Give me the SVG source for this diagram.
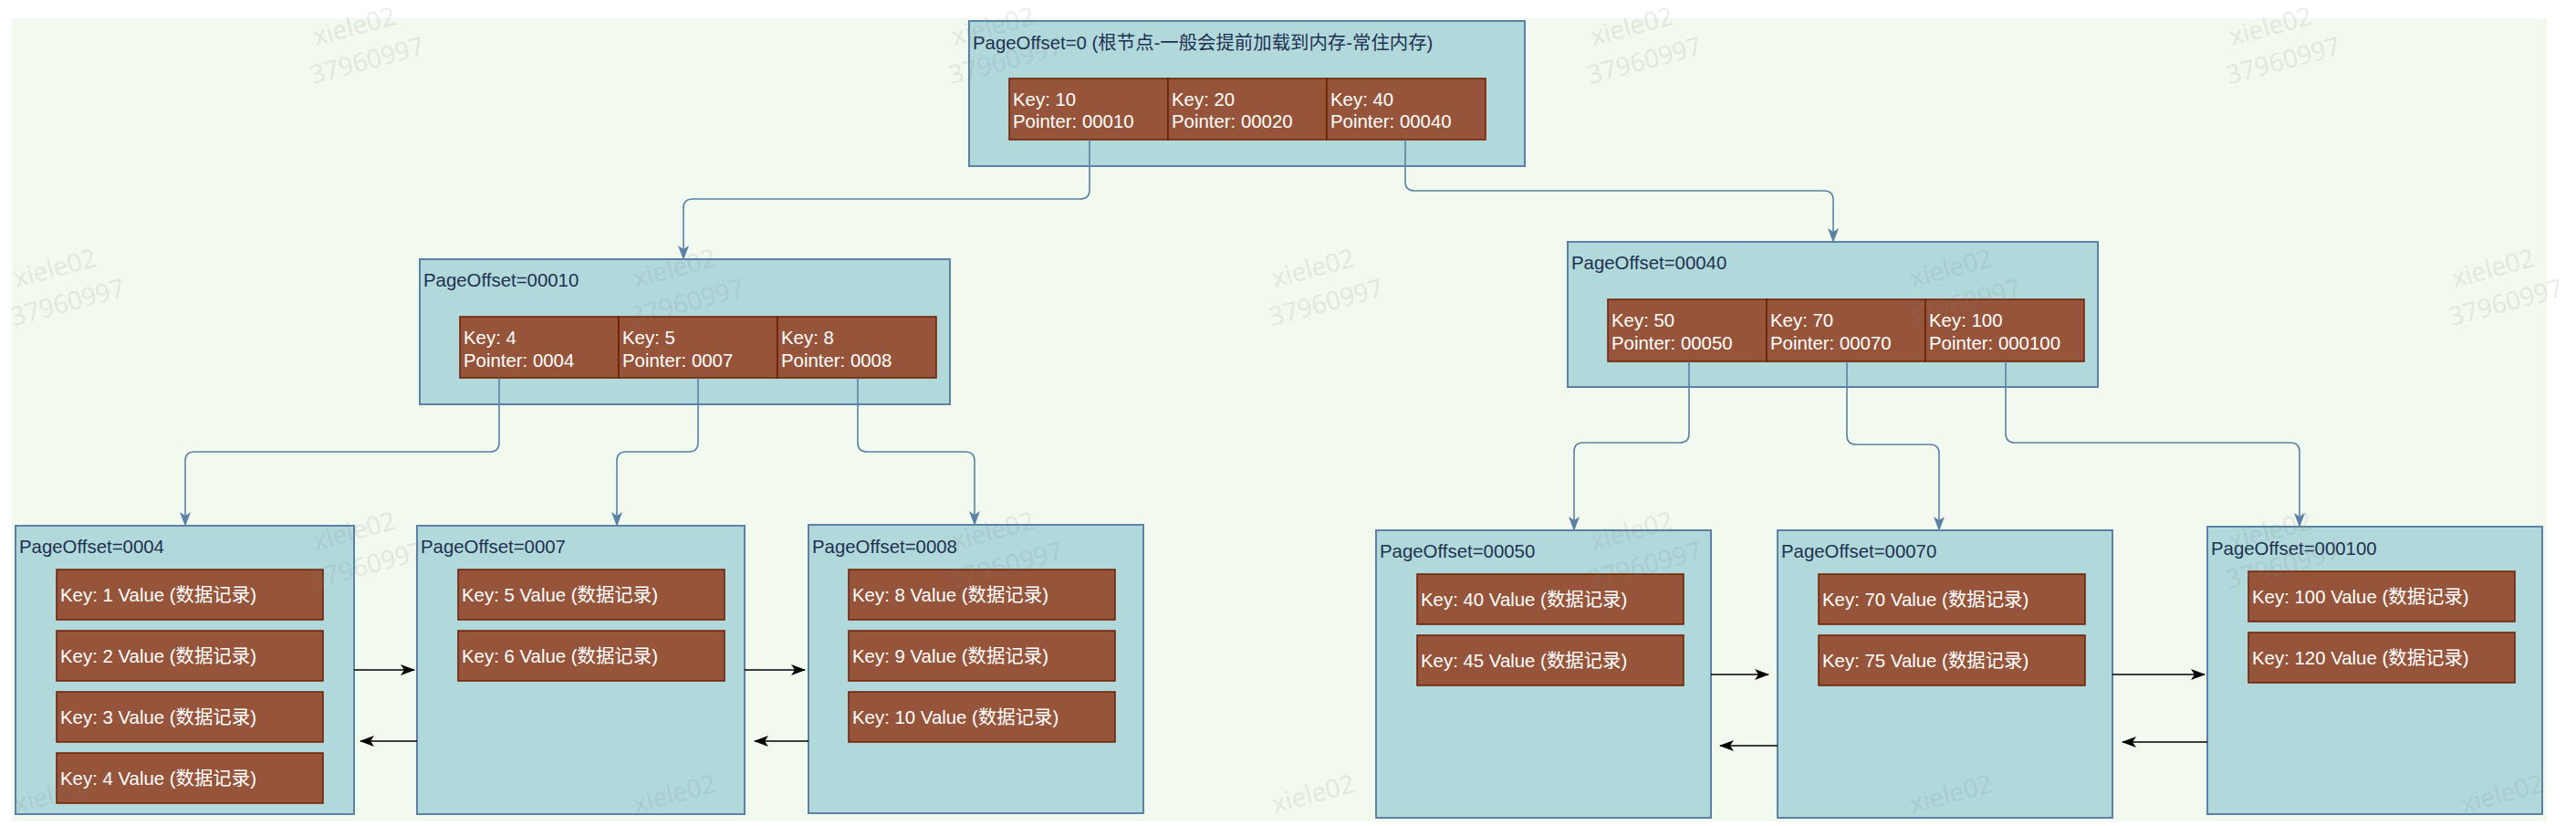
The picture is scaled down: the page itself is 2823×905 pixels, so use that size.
<svg xmlns="http://www.w3.org/2000/svg" width="2823" height="905" viewBox="0 0 2823 905">
<style>
.page{fill:#b1d9dc;stroke:#5b82a5;stroke-width:2}
.cell{fill:#96553a;stroke:#6d1f00;stroke-width:1.5}
.ttl{font-family:"Liberation Sans","Noto Sans CJK SC",sans-serif;font-size:20.4px;fill:#1e3150}
.ct{font-family:"Liberation Sans","Noto Sans CJK SC",sans-serif;font-size:20.4px;fill:#ffffff}
.tree{fill:none;stroke:#5b82a5;stroke-width:1.6}
.link{fill:none;stroke:#000000;stroke-width:1.6}
.wm{font-family:"Open Sans","DejaVu Sans",sans-serif;font-size:28px;fill:#7a7f7f;opacity:0.14}
</style>
<defs>
<marker id="ab" markerUnits="userSpaceOnUse" markerWidth="16" markerHeight="12" viewBox="0 0 16 12" refX="15" refY="6" orient="auto">
<path d="M0,0 L16,6 L0,12 L4,6 Z" fill="#5b82a5"/>
</marker>
<marker id="ak" markerUnits="userSpaceOnUse" markerWidth="16" markerHeight="12" viewBox="0 0 16 12" refX="15" refY="6" orient="auto">
<path d="M0,0 L16,6 L0,12 L4,6 Z" fill="#000000"/>
</marker>
</defs>
<rect x="0" y="0" width="2823" height="905" fill="#ffffff"/>
<rect x="13" y="20" width="2778" height="880" fill="#f2f9ef"/>

<g id="root">
<rect class="page" x="1062" y="23" width="609" height="159"/>
<text class="ttl" x="1066" y="54">PageOffset=0 (根节点-一般会提前加载到内存-常住内存)</text>
<rect class="cell" x="1106" y="86" width="174" height="67"/>
<rect class="cell" x="1280" y="86" width="174" height="67"/>
<rect class="cell" x="1454" y="86" width="174" height="67"/>
<text class="ct" x="1110" y="116">Key: 10</text><text class="ct" x="1110" y="140">Pointer: 00010</text>
<text class="ct" x="1284" y="116">Key: 20</text><text class="ct" x="1284" y="140">Pointer: 00020</text>
<text class="ct" x="1458" y="116">Key: 40</text><text class="ct" x="1458" y="140">Pointer: 00040</text>
</g>

<g id="page-00010">
<rect class="page" x="460" y="284" width="581" height="159"/>
<text class="ttl" x="464" y="314">PageOffset=00010</text>
<rect class="cell" x="504" y="347" width="174" height="67"/>
<rect class="cell" x="678" y="347" width="174" height="67"/>
<rect class="cell" x="852" y="347" width="174" height="67"/>
<text class="ct" x="508" y="377">Key: 4</text><text class="ct" x="508" y="402">Pointer: 0004</text>
<text class="ct" x="682" y="377">Key: 5</text><text class="ct" x="682" y="402">Pointer: 0007</text>
<text class="ct" x="856" y="377">Key: 8</text><text class="ct" x="856" y="402">Pointer: 0008</text>
</g>

<g id="page-00040">
<rect class="page" x="1718" y="265" width="581" height="159"/>
<text class="ttl" x="1722" y="295">PageOffset=00040</text>
<rect class="cell" x="1762" y="328" width="174" height="68"/>
<rect class="cell" x="1936" y="328" width="174" height="68"/>
<rect class="cell" x="2110" y="328" width="174" height="68"/>
<text class="ct" x="1766" y="358">Key: 50</text><text class="ct" x="1766" y="383">Pointer: 00050</text>
<text class="ct" x="1940" y="358">Key: 70</text><text class="ct" x="1940" y="383">Pointer: 00070</text>
<text class="ct" x="2114" y="358">Key: 100</text><text class="ct" x="2114" y="383">Pointer: 000100</text>
</g>

<g id="page-0004">
<rect class="page" x="17" y="576" width="371" height="316"/>
<text class="ttl" x="21" y="606">PageOffset=0004</text>
<rect class="cell" x="62" y="624" width="292" height="55"/><text class="ct" x="66" y="659">Key: 1 Value (数据记录)</text>
<rect class="cell" x="62" y="691" width="292" height="55"/><text class="ct" x="66" y="726">Key: 2 Value (数据记录)</text>
<rect class="cell" x="62" y="758" width="292" height="55"/><text class="ct" x="66" y="793">Key: 3 Value (数据记录)</text>
<rect class="cell" x="62" y="825" width="292" height="55"/><text class="ct" x="66" y="860">Key: 4 Value (数据记录)</text>
</g>

<g id="page-0007">
<rect class="page" x="457" y="576" width="359" height="316"/>
<text class="ttl" x="461" y="606">PageOffset=0007</text>
<rect class="cell" x="502" y="624" width="292" height="55"/><text class="ct" x="506" y="659">Key: 5 Value (数据记录)</text>
<rect class="cell" x="502" y="691" width="292" height="55"/><text class="ct" x="506" y="726">Key: 6 Value (数据记录)</text>
</g>

<g id="page-0008">
<rect class="page" x="886" y="575" width="367" height="316"/>
<text class="ttl" x="890" y="606">PageOffset=0008</text>
<rect class="cell" x="930" y="624" width="292" height="55"/><text class="ct" x="934" y="659">Key: 8 Value (数据记录)</text>
<rect class="cell" x="930" y="691" width="292" height="55"/><text class="ct" x="934" y="726">Key: 9 Value (数据记录)</text>
<rect class="cell" x="930" y="758" width="292" height="55"/><text class="ct" x="934" y="793">Key: 10 Value (数据记录)</text>
</g>

<g id="page-00050">
<rect class="page" x="1508" y="581" width="367" height="315"/>
<text class="ttl" x="1512" y="611">PageOffset=00050</text>
<rect class="cell" x="1553" y="629" width="292" height="55"/><text class="ct" x="1557" y="664">Key: 40 Value (数据记录)</text>
<rect class="cell" x="1553" y="696" width="292" height="55"/><text class="ct" x="1557" y="731">Key: 45 Value (数据记录)</text>
</g>

<g id="page-00070">
<rect class="page" x="1948" y="581" width="367" height="315"/>
<text class="ttl" x="1952" y="611">PageOffset=00070</text>
<rect class="cell" x="1993" y="629" width="292" height="55"/><text class="ct" x="1997" y="664">Key: 70 Value (数据记录)</text>
<rect class="cell" x="1993" y="696" width="292" height="55"/><text class="ct" x="1997" y="731">Key: 75 Value (数据记录)</text>
</g>

<g id="page-000100">
<rect class="page" x="2419" y="577" width="367" height="315"/>
<text class="ttl" x="2423" y="608">PageOffset=000100</text>
<rect class="cell" x="2464" y="626" width="292" height="55"/><text class="ct" x="2468" y="661">Key: 100 Value (数据记录)</text>
<rect class="cell" x="2464" y="693" width="292" height="55"/><text class="ct" x="2468" y="728">Key: 120 Value (数据记录)</text>
</g>

<g id="connectors">
<path class="tree" marker-end="url(#ab)" d="M1194,153 V208 Q1194,218 1184,218 H759 Q749,218 749,228 V284"/>
<path class="tree" marker-end="url(#ab)" d="M1540,153 V199 Q1540,209 1550,209 H1999 Q2009,209 2009,219 V265"/>
<path class="tree" marker-end="url(#ab)" d="M547,414 V485 Q547,495 537,495 H213 Q203,495 203,505 V576"/>
<path class="tree" marker-end="url(#ab)" d="M765,414 V485 Q765,495 755,495 H686 Q676,495 676,505 V576"/>
<path class="tree" marker-end="url(#ab)" d="M940,414 V485 Q940,495 950,495 H1058 Q1068,495 1068,505 V575"/>
<path class="tree" marker-end="url(#ab)" d="M1851,396 V475 Q1851,485 1841,485 H1735 Q1725,485 1725,495 V581"/>
<path class="tree" marker-end="url(#ab)" d="M2024,396 V477 Q2024,487 2034,487 H2115 Q2125,487 2125,497 V581"/>
<path class="tree" marker-end="url(#ab)" d="M2198,396 V475 Q2198,485 2208,485 H2510 Q2520,485 2520,495 V577"/>
<path class="link" marker-end="url(#ak)" d="M388,734 H454"/>
<path class="link" marker-end="url(#ak)" d="M457,812 H395"/>
<path class="link" marker-end="url(#ak)" d="M816,734 H882"/>
<path class="link" marker-end="url(#ak)" d="M886,812 H827"/>
<path class="link" marker-end="url(#ak)" d="M1875,739 H1938"/>
<path class="link" marker-end="url(#ak)" d="M1948,817 H1885"/>
<path class="link" marker-end="url(#ak)" d="M2315,739 H2416"/>
<path class="link" marker-end="url(#ak)" d="M2419,813 H2326"/>
</g>

<g id="watermark">
<g transform="translate(346,50) rotate(-15)"><text class="wm" x="0" y="0">xiele02</text><text class="wm" x="-14" y="40">37960997</text></g>
<g transform="translate(1046,50) rotate(-15)"><text class="wm" x="0" y="0">xiele02</text><text class="wm" x="-14" y="40">37960997</text></g>
<g transform="translate(1746,50) rotate(-15)"><text class="wm" x="0" y="0">xiele02</text><text class="wm" x="-14" y="40">37960997</text></g>
<g transform="translate(2446,50) rotate(-15)"><text class="wm" x="0" y="0">xiele02</text><text class="wm" x="-14" y="40">37960997</text></g>
<g transform="translate(18,315) rotate(-15)"><text class="wm" x="0" y="0">xiele02</text><text class="wm" x="-14" y="40">37960997</text></g>
<g transform="translate(697,315) rotate(-15)"><text class="wm" x="0" y="0">xiele02</text><text class="wm" x="-14" y="40">37960997</text></g>
<g transform="translate(1397,315) rotate(-15)"><text class="wm" x="0" y="0">xiele02</text><text class="wm" x="-14" y="40">37960997</text></g>
<g transform="translate(2096,315) rotate(-15)"><text class="wm" x="0" y="0">xiele02</text><text class="wm" x="-14" y="40">37960997</text></g>
<g transform="translate(2690,315) rotate(-15)"><text class="wm" x="0" y="0">xiele02</text><text class="wm" x="-14" y="40">37960997</text></g>
<g transform="translate(346,603) rotate(-15)"><text class="wm" x="0" y="0">xiele02</text><text class="wm" x="-14" y="40">37960997</text></g>
<g transform="translate(1046,603) rotate(-15)"><text class="wm" x="0" y="0">xiele02</text><text class="wm" x="-14" y="40">37960997</text></g>
<g transform="translate(1746,603) rotate(-15)"><text class="wm" x="0" y="0">xiele02</text><text class="wm" x="-14" y="40">37960997</text></g>
<g transform="translate(2446,603) rotate(-15)"><text class="wm" x="0" y="0">xiele02</text><text class="wm" x="-14" y="40">37960997</text></g>
<g transform="translate(18,891) rotate(-15)"><text class="wm" x="0" y="0">xiele02</text></g>
<g transform="translate(697,891) rotate(-15)"><text class="wm" x="0" y="0">xiele02</text></g>
<g transform="translate(1397,891) rotate(-15)"><text class="wm" x="0" y="0">xiele02</text></g>
<g transform="translate(2096,891) rotate(-15)"><text class="wm" x="0" y="0">xiele02</text></g>
<g transform="translate(2700,891) rotate(-15)"><text class="wm" x="0" y="0">xiele02</text></g>
</g>
</svg>
